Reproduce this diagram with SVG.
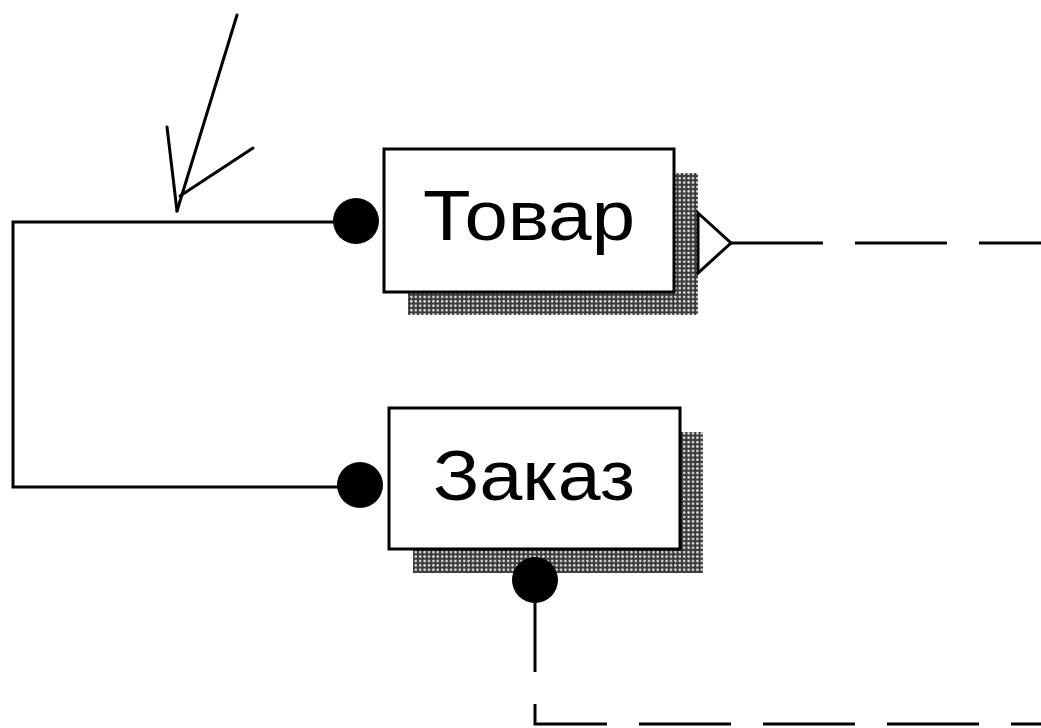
<svg xmlns="http://www.w3.org/2000/svg" width="1041" height="728" viewBox="0 0 1041 728">
  <defs>
    <!-- halftone used for the drop shadows of entity boxes -->
    <pattern id="halftone" width="4.4" height="4.4" patternUnits="userSpaceOnUse">
      <rect width="4.4" height="4.4" fill="#3a3a3a"/>
      <circle cx="2.2" cy="2.2" r="1.3" fill="#e8e8e8"/>
    </pattern>
    <style>
      .box { fill: #ffffff; stroke: #000000; stroke-width: 3; }
      .shadow { fill: url(#halftone); }
      .label { font-family: "Liberation Sans", Arial, sans-serif; font-size: 70px; fill: #000000; }
      .line { fill: none; stroke: #000000; stroke-width: 3; }
      .dashed { fill: none; stroke: #000000; stroke-width: 3; stroke-dasharray: 92 32; }
      .dot { fill: #000000; }
      .thin { fill: none; stroke: #000000; stroke-width: 3; stroke-linecap: round; }
    </style>
  </defs>

  <rect width="1041" height="728" fill="#ffffff"/>

  <!-- connectors -->
  <g id="connectors">
    <!-- identifying relationship loop on the left -->
    <path class="line" d="M356 222 H13 V487 H360"/>
    <!-- pointer arrow onto the loop -->
    <path class="thin" d="M237 15 L177 211"/>
    <path class="thin" d="M167 127 L177 211"/>
    <path class="thin" d="M253 148 L180 196"/>
    <!-- non-identifying relationship from Товар -->
    <path class="dashed" d="M731 243 H1041"/>
    <!-- non-identifying relationship from Заказ -->
    <path class="dashed" d="M535 580 V724 H1041"/>
  </g>

  <!-- entity: Товар -->
  <g id="node-tovar">
    <rect class="shadow" x="674" y="173" width="24" height="142"/>
    <rect class="shadow" x="408" y="292" width="290" height="23"/>
    <rect class="box" x="384" y="149" width="290" height="143"/>
    <text class="label" x="423" y="240" textLength="212" lengthAdjust="spacingAndGlyphs">Товар</text>
    <circle class="dot" cx="356" cy="221" r="23"/>
    <polygon points="698,213 731,243 698,273" fill="#ffffff" stroke="#000000" stroke-width="3"/>
  </g>

  <!-- entity: Заказ -->
  <g id="node-zakaz">
    <rect class="shadow" x="680" y="432" width="23" height="141"/>
    <rect class="shadow" x="413" y="549" width="290" height="24"/>
    <rect class="box" x="389" y="408" width="291" height="141"/>
    <text class="label" x="433" y="500" textLength="202" lengthAdjust="spacingAndGlyphs">Заказ</text>
    <circle class="dot" cx="360" cy="485" r="23"/>
    <circle class="dot" cx="535" cy="580" r="23"/>
  </g>
</svg>
